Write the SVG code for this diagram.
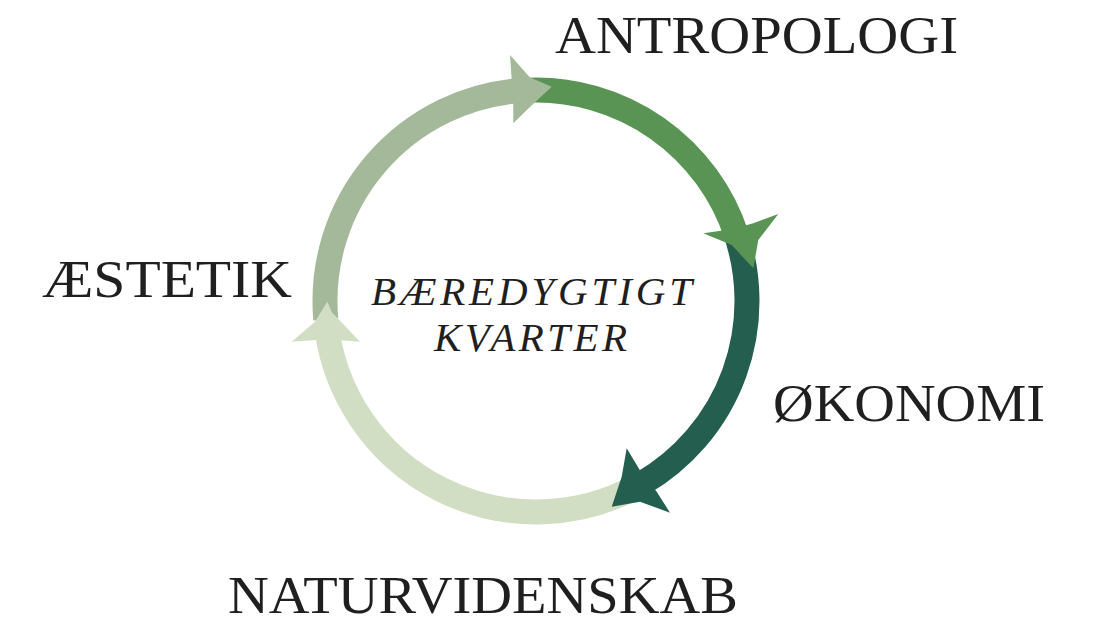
<svg xmlns="http://www.w3.org/2000/svg" width="1099" height="624" viewBox="0 0 1099 624">
<style>
.band{fill:none;stroke-width:25;stroke-linecap:butt}
.lbl{font-family:"Liberation Serif","Times New Roman",serif;font-size:53px;fill:#1f1f1f}
.ctr{font-family:"Liberation Serif","Times New Roman",serif;font-size:41px;font-style:italic;fill:#1f1f1f}
</style>
<rect width="1099" height="624" fill="#ffffff"/>
<g id="connectors">
<path class="band" stroke="#d2dec3" d="M635.06 487.3 A211 211 0 0 1 327.05 330.37"/>
<path class="band" stroke="#245e4f" d="M734.27 228.83 A211 211 0 0 1 641.5 483.73"/>
<path class="band" stroke="#5a9455" d="M528.64 90.13 A211 211 0 0 1 736.67 235.8"/>
<path class="band" stroke="#a4b99a" d="M325.8 319.4 A211 211 0 0 1 521.28 90.51"/>
<polygon fill="#a4b99a" points="551.7,86.7 530,77.5 510,55 511.7,80 513.3,106 513.3,123.3 531,106"/>
<polygon fill="#5a9455" points="753.3,268.3 731.7,245 703.3,233.3 731.7,229.3 753.3,223.3 778.3,214 758.3,240"/>
<polygon fill="#245e4f" points="611.7,506.7 621.7,476.7 626.7,448.3 641.7,473.3 656.7,491.7 670,512.7 640,501.7"/>
<polygon fill="#d2dec3" points="327.3,301.7 331.7,312 360,341.7 337,340 316,340 291.7,341.7 315,321.7"/>
</g>
<g id="node-antropologi"><text class="lbl" x="555" y="53" textLength="403" lengthAdjust="spacingAndGlyphs">ANTROPOLOGI</text></g>
<g id="node-okonomi"><text class="lbl" x="773" y="421" textLength="272" lengthAdjust="spacingAndGlyphs">ØKONOMI</text></g>
<g id="node-naturvidenskab"><text class="lbl" x="228" y="613" textLength="510" lengthAdjust="spacingAndGlyphs">NATURVIDENSKAB</text></g>
<g id="node-aestetik"><text class="lbl" x="42" y="297" textLength="250" lengthAdjust="spacingAndGlyphs">ÆSTETIK</text></g>
<g id="node-center">
<text class="ctr" x="371" y="305" textLength="321" lengthAdjust="spacing">BÆREDYGTIGT</text>
<text class="ctr" x="434" y="351" textLength="193" lengthAdjust="spacing">KVARTER</text>
</g>
</svg>
